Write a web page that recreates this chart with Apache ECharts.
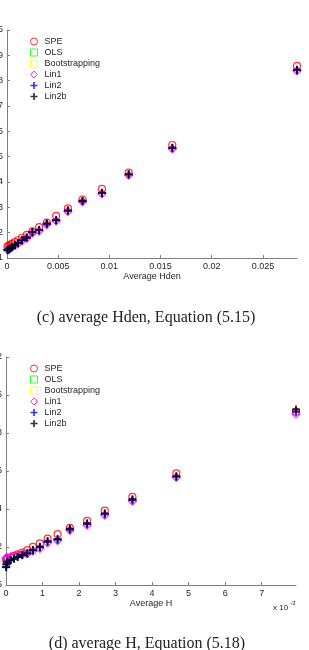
<!DOCTYPE html>
<html>
<head>
<meta charset="utf-8">
<script src="https://cdn.jsdelivr.net/npm/echarts@6/dist/echarts.min.js"></script>
<style>
  html, body { margin: 0; padding: 0; background: #fff; }
  #chart { width: 309px; height: 650px; }
</style>
</head>
<body>
<div id="chart"></div>
<script>
// legend names
const seriesNames = ["SPE", "OLS", "Bootstrapping", "Lin1", "Lin2", "Lin2b"];

// (c) average Hden
const hdenX = [0.02833, 0.01615, 0.01189, 0.00928, 0.00738, 0.00595, 0.0048, 0.00389, 0.00314, 0.00248, 0.00193, 0.00147, 0.00108, 0.00078, 0.00049, 0.0003, 0.00015, 0.00005];
const hdenSPE = [0.4858, 0.4546, 0.4437, 0.4373, 0.4331, 0.4296, 0.4266, 0.4240, 0.4222, 0.4205, 0.4191, 0.4180, 0.4170, 0.4163, 0.4157, 0.4152, 0.4148, 0.4145];
const hdenOLS = [];
const hdenBoot = [];
const hdenLin1 = [0.4839, 0.4531, 0.4427, 0.4354, 0.4322, 0.4284, 0.4246, 0.4232, 0.4207, 0.4199, 0.4178, 0.4168, 0.4157, 0.4150, 0.4142, 0.4138, 0.4135, 0.4133];
const hdenLin2 = [0.4841, 0.4533, 0.4429, 0.4356, 0.4324, 0.4286, 0.4248, 0.4234, 0.4209, 0.4201, 0.4180, 0.4170, 0.4158, 0.4150, 0.4142, 0.4137, 0.4133, 0.4131];
const hdenLin2b = [0.4843, 0.4535, 0.4431, 0.4358, 0.4326, 0.4288, 0.4250, 0.4236, 0.4211, 0.4203, 0.4181, 0.4171, 0.4159, 0.4151, 0.4143, 0.4138, 0.4134, 0.4132];

// (d) average H
const hX = [0.00794, 0.004664, 0.003462, 0.002705, 0.002221, 0.001749, 0.001413, 0.001139, 0.000929, 0.000738, 0.000582, 0.000445, 0.00032, 0.000219, 0.000128, 0.000036, 0.000012, 0.000004];
const hSPE = [0.5912, 0.5588, 0.5464, 0.5391, 0.5338, 0.5301, 0.5268, 0.5244, 0.5219, 0.5201, 0.5184, 0.5170, 0.5161, 0.5153, 0.5146, 0.5138, 0.5135, 0.5133];
const hOLS = [];
const hBoot = [];
const hLin1 = [0.5900, 0.5566, 0.5441, 0.5367, 0.5315, 0.5288, 0.5234, 0.5222, 0.5193, 0.5179, 0.5166, 0.5161, 0.5156, 0.5151, 0.5148, 0.5145, 0.5143, 0.5141];
const hLin2 = [0.5912, 0.5570, 0.5446, 0.5372, 0.5320, 0.5292, 0.5238, 0.5226, 0.5197, 0.5181, 0.5165, 0.5156, 0.5147, 0.5138, 0.5130, 0.5121, 0.5108, 0.5093];
const hLin2b = [0.5924, 0.5573, 0.5451, 0.5377, 0.5325, 0.5296, 0.5242, 0.5231, 0.5201, 0.5184, 0.5167, 0.5158, 0.5149, 0.5140, 0.5132, 0.5123, 0.5110, 0.5095];

const plusPath = "path://M3.8,0h2.4v3.8h3.8v2.4h-3.8v3.8h-2.4v-3.8h-3.8v-2.4h3.8z";
const markerStyles = [
  { symbol: "circle", itemStyle: { color: "rgba(0,0,0,0)", borderColor: "#ff0000", borderWidth: 1.2 } },
  { symbol: "rect", symbolSize: 6, itemStyle: { color: "rgba(0,0,0,0)", borderColor: "#00ff00", borderWidth: 1 } },
  { symbol: "rect", symbolSize: 6, itemStyle: { color: "rgba(0,0,0,0)", borderColor: "#ffff00", borderWidth: 1 } },
  { symbol: "diamond", symbolSize: 8, itemStyle: { color: "rgba(0,0,0,0)", borderColor: "#ff00ff", borderWidth: 1.2 } },
  { symbol: plusPath, symbolSize: 8, itemStyle: { color: "#0000ff" } },
  { symbol: plusPath, symbolSize: 8, itemStyle: { color: "#000000" } },
];

function zip(xs, ys) {
  return ys.map((y, i) => [xs[i], y]);
}

function makeSeries(gridIndex, xs, ysList) {
  return ysList.map((ys, i) => ({
    name: seriesNames[i],
    type: "scatter",
    xAxisIndex: gridIndex,
    yAxisIndex: gridIndex,
    symbol: markerStyles[i].symbol,
    symbolSize: markerStyles[i].symbolSize || 7,
    itemStyle: markerStyles[i].itemStyle,
    emphasis: { disabled: true },
    data: zip(xs, ys),
  }));
}

const axisColor = "#7f7f7f";
const textColor = "#262626";
const sans = "Liberation Sans";

function axisCommon() {
  return {
    type: "value",
    splitLine: { show: false },
    axisLine: { show: true, onZero: false, lineStyle: { color: axisColor, width: 1 } },
    axisTick: { show: true, inside: true, length: 3, lineStyle: { color: axisColor } },
    axisLabel: { color: textColor, fontSize: 9, fontFamily: sans, showMaxLabel: false, margin: 4 },
  };
}

function legendAt(top) {
  return {
    data: seriesNames,
    orient: "vertical",
    left: 25,
    top: top,
    itemWidth: 7,
    itemHeight: 7,
    itemGap: 2,
    selectedMode: false,
    itemStyle: { borderWidth: 1 },
    textStyle: { color: textColor, fontSize: 9, fontFamily: sans, lineHeight: 9, padding: [0, 0, 0, 2] },
  };
}

const chart = echarts.init(document.getElementById("chart"));
chart.setOption({
  animation: false,
  backgroundColor: "#fff",
  grid: [
    { left: 7, right: 12, top: 30, height: 228, outerBoundsMode: "none" },
    { left: 6, right: 13, top: 357, height: 228, outerBoundsMode: "none" },
  ],
  legend: [legendAt(32), legendAt(359)],
  xAxis: [
    Object.assign(axisCommon(), {
      gridIndex: 0, min: 0, max: hdenX[0], interval: 0.005,
      name: "Average Hden", nameLocation: "middle", nameGap: 13,
      nameTextStyle: { color: textColor, fontSize: 9, fontFamily: sans },
    }),
    Object.assign(axisCommon(), {
      gridIndex: 1, min: 0, max: hX[0], interval: 0.001,
      name: "Average H", nameLocation: "middle", nameGap: 13,
      nameTextStyle: { color: textColor, fontSize: 9, fontFamily: sans },
    }),
  ],
  yAxis: [
    Object.assign(axisCommon(), { gridIndex: 0, min: 0.41, max: 0.5, interval: 0.01 }),
    Object.assign(axisCommon(), { gridIndex: 1, min: 0.5, max: 0.62, interval: 0.02 }),
  ],
  series: [
    ...makeSeries(0, hdenX, [hdenSPE, hdenOLS, hdenBoot, hdenLin1, hdenLin2, hdenLin2b]),
    ...makeSeries(1, hX, [hSPE, hOLS, hBoot, hLin1, hLin2, hLin2b]),
  ],
  graphic: [
    { type: "text", x: 146, y: 318, style: { text: "(c) average Hden, Equation (5.15)", font: "16px 'Liberation Serif'", fill: "#222", textAlign: "center", textVerticalAlign: "middle" } },
    { type: "text", x: 147, y: 644, style: { text: "(d) average H, Equation (5.18)", font: "16px 'Liberation Serif'", fill: "#222", textAlign: "center", textVerticalAlign: "middle" } },
    { type: "text", x: 273, y: 608, style: { text: "x 10", font: "8px 'Liberation Sans'", fill: textColor, textVerticalAlign: "middle" } },
    { type: "text", x: 290, y: 603, style: { text: "-3", font: "6px 'Liberation Sans'", fill: textColor, textVerticalAlign: "middle" } },
  ],
});
// bottom panel ticks are shown in units of 1e-3; y axes keep their top label
chart.setOption({
  xAxis: [{}, { axisLabel: { formatter: (v) => String(Math.round(v * 1000)) } }],
  yAxis: [{ axisLabel: { showMaxLabel: true } }, { axisLabel: { showMaxLabel: true } }],
});
</script>
</body>
</html>
